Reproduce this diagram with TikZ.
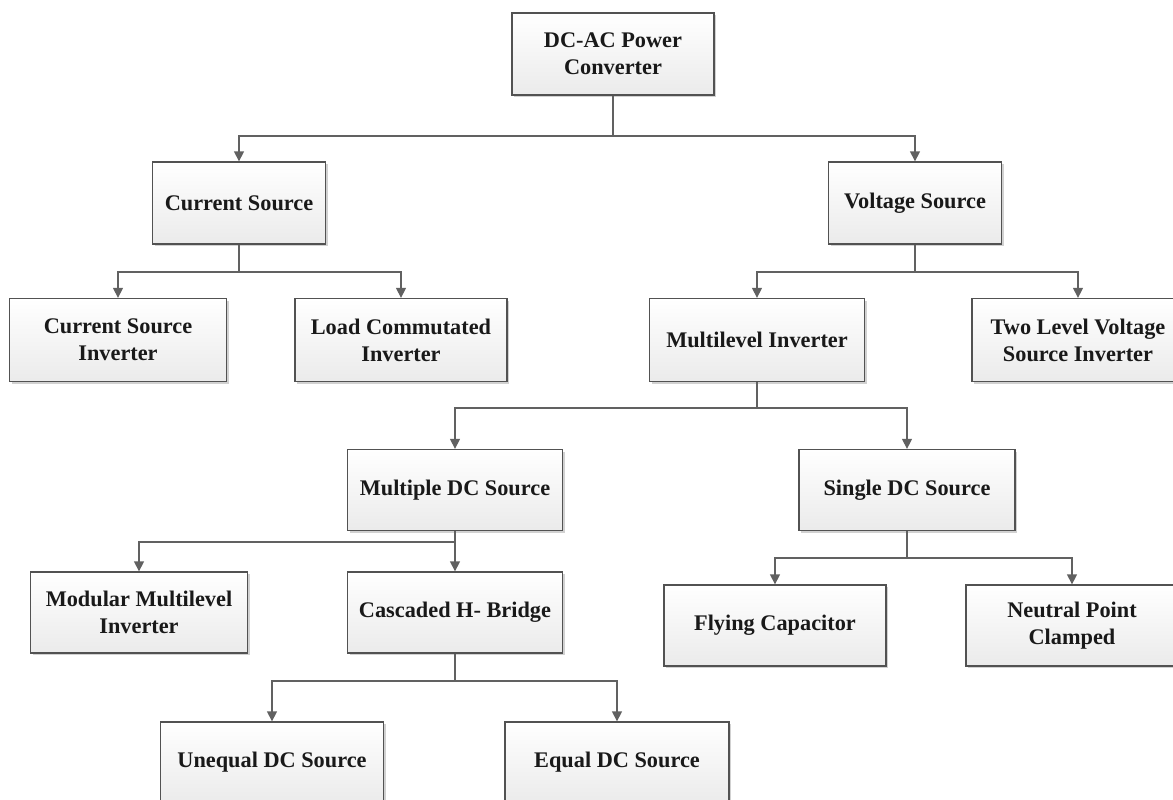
\documentclass[tikz,border=0pt]{standalone}
\usepackage{fontspec}
\setmainfont{Liberation Serif}
\usetikzlibrary{arrows.meta,shadows}
\begin{document}
\begin{tikzpicture}[x=1pt,y=-1pt,
  box/.style={rectangle, draw=black!68, line width=1.3pt,
    top color=white, bottom color=black!8,
    drop shadow={shadow xshift=2pt, shadow yshift=-2pt, fill=black!30, opacity=0.6},
    font=\fontsize{22.3}{27}\selectfont\bfseries, text=black!90,
    align=center, inner sep=0pt},
  link/.style={draw=black!62, line width=1.3pt},
  arr/.style={link, -{Triangle[width=10pt,length=10pt]}}]
\useasboundingbox (0,0) rectangle (1173,800);

% tree nodes
\node[box, minimum width=202, minimum height=82] (dcac) at (613,54) {DC-AC Power\\Converter};
\node[box, minimum width=173, minimum height=82] (cs) at (239,203) {Current Source};
\node[box, minimum width=173, minimum height=82] (vs) at (915,203) {Voltage Source};
\node[box, minimum width=217, minimum height=83] (csi) at (118,340) {Current Source\\Inverter};
\node[box, minimum width=212, minimum height=83] (lci) at (401,340) {Load Commutated\\Inverter};
\node[box, minimum width=215, minimum height=83] (mli) at (757,340) {Multilevel Inverter};
\node[box, minimum width=212, minimum height=83] (tl) at (1078,340) {Two Level Voltage\\Source Inverter};
\node[box, minimum width=215, minimum height=81] (mdc) at (455,490) {Multiple DC Source};
\node[box, minimum width=216, minimum height=81] (sdc) at (907,490) {Single DC Source};
\node[box, minimum width=217, minimum height=81] (mmi) at (139,612.5) {Modular Multilevel\\Inverter};
\node[box, minimum width=215, minimum height=81] (chb) at (455,612.5) {Cascaded H- Bridge};
\node[box, minimum width=222, minimum height=81] (fc) at (775,625.5) {Flying Capacitor};
\node[box, minimum width=212, minimum height=81] (npc) at (1072,625.5) {Neutral Point\\Clamped};
\node[box, minimum width=223, minimum height=81] (udc) at (272,762.5) {Unequal DC Source};
\node[box, minimum width=224, minimum height=81] (edc) at (617,762.5) {Equal DC Source};

% branch points
\coordinate (j1) at (613,136);
\coordinate (j2) at (239,272);
\coordinate (j3) at (915,272);
\coordinate (j4) at (757,408);
\coordinate (j5) at (455,542);
\coordinate (j6) at (907,558);
\coordinate (j7) at (455,681);

% connectors
\draw[link] (dcac.south) -- (j1);
\draw[arr] (j1) -| (cs.north);
\draw[arr] (j1) -| (vs.north);

\draw[link] (cs.south) -- (j2);
\draw[arr] (j2) -| (csi.north);
\draw[arr] (j2) -| (lci.north);

\draw[link] (vs.south) -- (j3);
\draw[arr] (j3) -| (mli.north);
\draw[arr] (j3) -| (tl.north);

\draw[link] (mli.south) -- (j4);
\draw[arr] (j4) -| (mdc.north);
\draw[arr] (j4) -| (sdc.north);

\draw[link] (mdc.south) -- (j5);
\draw[arr] (j5) -| (mmi.north);
\draw[arr] (j5) -- (chb.north);

\draw[link] (sdc.south) -- (j6);
\draw[arr] (j6) -| (fc.north);
\draw[arr] (j6) -| (npc.north);

\draw[link] (chb.south) -- (j7);
\draw[arr] (j7) -| (udc.north);
\draw[arr] (j7) -| (edc.north);
\end{tikzpicture}
\end{document}
